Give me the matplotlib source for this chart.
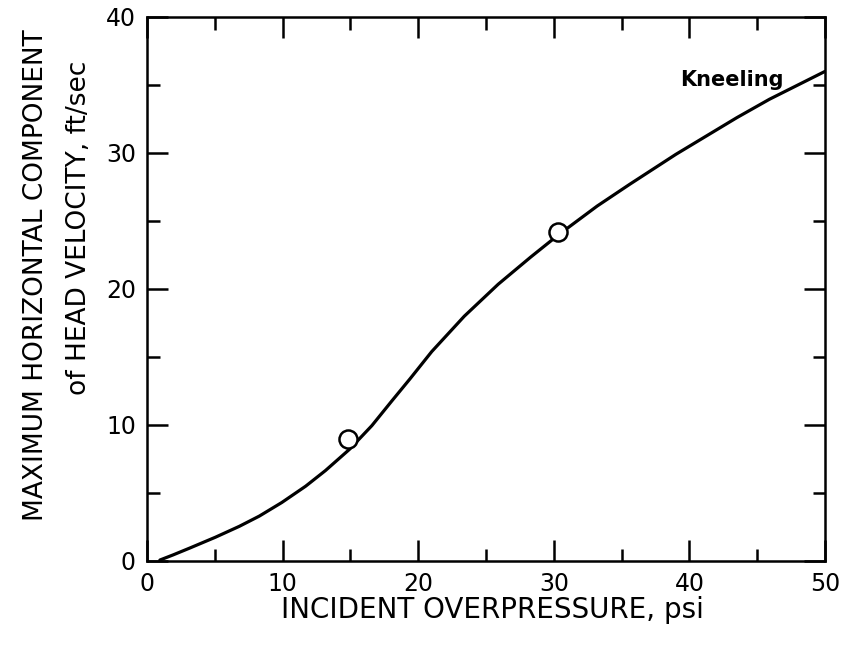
import matplotlib
matplotlib.use("Agg")
import matplotlib.pyplot as plt
from matplotlib.ticker import MultipleLocator

# Curve (Kneeling)
curve_x = [0.95, 1.93, 3.15, 5.05, 6.81, 8.28, 9.94, 11.7, 13.16, 14.92, 16.58,
           18.04, 19.4, 21.0, 23.4, 25.9, 28.3, 30.3, 33.2, 35.6, 39.0, 41.0,
           43.5, 45.9, 48.0, 49.4, 50.0]
curve_y = [0.07, 0.45, 0.95, 1.75, 2.55, 3.3, 4.3, 5.5, 6.65, 8.2, 9.95,
           11.75, 13.4, 15.4, 18.0, 20.35, 22.35, 23.95, 26.1, 27.7, 29.9, 31.1,
           32.6, 33.95, 35.0, 35.7, 36.0]

# Measured data points
pts_x = [14.8, 30.3]
pts_y = [9.0, 24.2]

x_ticks = [0, 10, 20, 30, 40, 50]
y_ticks = [0, 10, 20, 30, 40]

xlabel = "INCIDENT OVERPRESSURE, psi"
ylabel1 = "MAXIMUM HORIZONTAL COMPONENT"
ylabel2 = "of HEAD VELOCITY, ft/sec"
curve_label = "Kneeling"

plt.rcParams['font.family'] = ['DejaVu Sans']

fig = plt.figure(figsize=(8.46, 6.49), dpi=100)
ax = fig.add_axes([147/846, (649-561)/649, 678/846, 544/649])

ax.plot(curve_x, curve_y, color='black', lw=2.3, solid_capstyle='round',
        solid_joinstyle='round', zorder=2)
ax.plot(pts_x, pts_y, linestyle='none', marker='o', markersize=13,
        markerfacecolor='white', markeredgecolor='black', markeredgewidth=1.8, zorder=3)

ax.set_xlim(0, 50)
ax.set_ylim(0, 40)
ax.set_xticks(x_ticks)
ax.set_yticks(y_ticks)
ax.xaxis.set_minor_locator(MultipleLocator(5))
ax.yaxis.set_minor_locator(MultipleLocator(5))
ax.tick_params(which='both', direction='in', top=True, right=True, width=1.8, color='black')
ax.tick_params(which='major', length=15, labelsize=17, pad=8)
ax.tick_params(which='minor', length=9)
for s in ax.spines.values():
    s.set_linewidth(1.8)

ax.text(43.1, 35.4, curve_label, fontsize=15, fontweight='bold', ha='center', va='center')

fig.text(492/846, 1-610/649, xlabel, fontsize=20, ha='center', va='center')
fig.text(36/846, 1-275/649, ylabel1, fontsize=19, rotation=90, ha='center', va='center')
fig.text(79/846, 1-228/649, ylabel2, fontsize=19, rotation=90, ha='center', va='center')

fig.savefig("out.png", dpi=100, facecolor='white')
